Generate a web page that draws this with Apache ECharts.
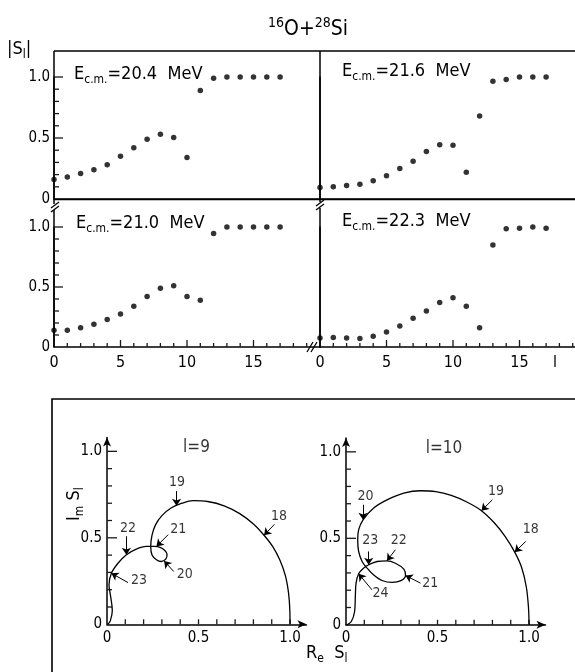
<!DOCTYPE html>
<html>
<head>
<meta charset="utf-8">
<script src="https://cdn.jsdelivr.net/npm/echarts@6/dist/echarts.min.js"></script>
<style>
  html, body { margin: 0; padding: 0; background: #fff; }
  #main { width: 575px; height: 672px; }
</style>
</head>
<body>
<div id="main"></div>
<script>
var FONT = "'DejaVu Sans Condensed', 'Liberation Sans Narrow', 'DejaVu Sans', sans-serif";

// partial wave l
var ell = [0, 1, 2, 3, 4, 5, 6, 7, 8, 9, 10, 11, 12, 13, 14, 15, 16, 17];
// |S_l| at each energy
var s204 = [0.16, 0.18, 0.21, 0.24, 0.28, 0.35, 0.42, 0.49, 0.53, 0.505, 0.34, 0.89, 0.99, 1, 1, 1, 1, 1];
var s216 = [0.095, 0.10, 0.11, 0.12, 0.15, 0.19, 0.25, 0.31, 0.39, 0.445, 0.44, 0.22, 0.68, 0.965, 0.98, 1, 1, 1];
var s210 = [0.14, 0.14, 0.16, 0.19, 0.23, 0.275, 0.34, 0.42, 0.49, 0.51, 0.42, 0.39, 0.945, 1, 1, 1, 1, 1];
var s223 = [0.075, 0.08, 0.075, 0.07, 0.09, 0.125, 0.175, 0.24, 0.30, 0.37, 0.41, 0.34, 0.16, 0.85, 0.985, 0.99, 1, 0.99];

// Argand trajectory of S_l for l=9 and l=10
var re9 = [1.0, 0.999, 0.992, 0.975, 0.945, 0.905, 0.858, 0.8, 0.725, 0.64, 0.55, 0.47, 0.41, 0.35, 0.3, 0.265, 0.246, 0.239, 0.246, 0.27, 0.297, 0.322, 0.328, 0.313, 0.29, 0.26, 0.215, 0.16, 0.106, 0.06, 0.024, 0.011, 0.02, 0.029, 0.018, 0.004];
var im9 = [0, 0.08, 0.18, 0.28, 0.37, 0.45, 0.515, 0.58, 0.64, 0.685, 0.71, 0.715, 0.7, 0.672, 0.628, 0.575, 0.515, 0.45, 0.40, 0.373, 0.363, 0.378, 0.405, 0.43, 0.445, 0.45, 0.45, 0.435, 0.402, 0.353, 0.295, 0.227, 0.16, 0.08, 0.02, 0];
var re10 = [1.0, 0.997, 0.985, 0.96, 0.922, 0.87, 0.81, 0.74, 0.66, 0.575, 0.49, 0.407, 0.316, 0.224, 0.15, 0.093, 0.069, 0.064, 0.069, 0.088, 0.115, 0.15, 0.197, 0.252, 0.3, 0.325, 0.316, 0.27, 0.224, 0.17, 0.124, 0.097, 0.069, 0.055, 0.051, 0.047, 0.029, 0.005];
var im10 = [0, 0.1, 0.22, 0.33, 0.42, 0.51, 0.59, 0.66, 0.71, 0.748, 0.77, 0.775, 0.761, 0.722, 0.674, 0.607, 0.549, 0.491, 0.424, 0.366, 0.328, 0.289, 0.256, 0.245, 0.255, 0.285, 0.322, 0.356, 0.37, 0.366, 0.347, 0.328, 0.295, 0.241, 0.164, 0.077, 0.019, 0];

// energy labels on the curves (arrow tip on curve, arrow tail, label)
var notes9 = ['18', '19', '20', '21', '22', '23'];
var tip9 = [[0.858, 0.515], [0.38, 0.686], [0.312, 0.366], [0.27, 0.45], [0.106, 0.402], [0.024, 0.295]];
var tail9 = [[0.915, 0.578], [0.38, 0.77], [0.365, 0.305], [0.334, 0.518], [0.106, 0.509], [0.115, 0.241]];
var text9 = [[0.94, 0.625], [0.383, 0.82], [0.425, 0.291], [0.389, 0.551], [0.115, 0.557], [0.175, 0.256]];
var notes10 = ['18', '19', '20', '21', '22', '23', '24'];
var tip10 = [[0.922, 0.42], [0.74, 0.66], [0.093, 0.607], [0.325, 0.285], [0.224, 0.37], [0.124, 0.347], [0.069, 0.295]];
var tail10 = [[0.982, 0.482], [0.80, 0.723], [0.093, 0.694], [0.407, 0.241], [0.27, 0.434], [0.124, 0.424], [0.142, 0.202]];
var text10 = [[1.01, 0.55], [0.82, 0.771], [0.106, 0.742], [0.46, 0.241], [0.288, 0.491], [0.133, 0.491], [0.188, 0.183]];

// tick values
var ellTicks = [1, 2, 3, 4, 5, 6, 7, 8, 9, 10, 11, 12, 13, 14, 15, 16, 17, 18, 19];
var sTicks = [0.1, 0.2, 0.3, 0.4, 0.5, 0.6, 0.7, 0.8, 0.9, 1.0];
var argTicks = [0.1, 0.2, 0.3, 0.4, 0.5, 0.6, 0.7, 0.8, 0.9, 1.0];
var argLabels = [0, 0.5, 1.0];

var chart = echarts.init(document.getElementById('main'));

function black() { return {color: '#000', width: 1.5}; }
function fmt(v) { return v === 0 ? '0' : v.toFixed(1); }

function panelX(gi, withLabels) {
    return {
        type: 'value', gridIndex: gi, min: 0, max: 20, interval: 5,
        axisLine: {show: true, lineStyle: black()},
        axisTick: {show: false}, minorTick: {show: false},
        axisLabel: {show: withLabels, margin: 8, fontSize: 16, color: '#000', fontFamily: FONT,
            formatter: function(v) { return v === 20 ? '' : String(v); }},
        splitLine: {show: false}
    };
}
function panelY(gi, withLabels) {
    return {
        type: 'value', gridIndex: gi, min: 0, max: 1, interval: 0.5,
        axisLine: {show: true, lineStyle: black()},
        axisTick: {show: false}, minorTick: {show: false},
        axisLabel: {show: withLabels, margin: 4, fontSize: 15, color: '#000', fontFamily: FONT, formatter: fmt},
        splitLine: {show: false}
    };
}
function argX(gi) {
    return {
        type: 'value', gridIndex: gi, min: 0, max: 1.09,
        axisLine: {show: true, symbol: ['none', 'arrow'], symbolSize: [6, 9], lineStyle: black()},
        axisTick: {show: false},
        axisLabel: {show: true, customValues: argLabels, margin: 6, fontSize: 15, color: '#000', fontFamily: FONT, formatter: fmt},
        splitLine: {show: false}
    };
}
function argY(gi) {
    return {
        type: 'value', gridIndex: gi, min: 0, max: 1.08,
        axisLine: {show: true, symbol: ['none', 'arrow'], symbolSize: [6, 9], lineStyle: black()},
        axisTick: {show: false},
        axisLabel: {show: true, customValues: argLabels, margin: 5, fontSize: 15, color: '#000', fontFamily: FONT, formatter: fmt},
        splitLine: {show: false}
    };
}

function pts(xs, ys) {
    return xs.map(function(x, i) { return [x, ys[i]]; });
}
function dots(xi, yi, vals) {
    return {
        type: 'scatter', xAxisIndex: xi, yAxisIndex: yi, clip: false,
        symbolSize: 5.5, itemStyle: {color: '#000'},
        data: pts(ell, vals)
    };
}
// inward ticks drawn through the axis scale; majorEvery marks longer ticks
function ticks(xi, yi, vals, onX, len, longLen, majorEvery) {
    return {
        type: 'custom', xAxisIndex: xi, yAxisIndex: yi, clip: false, silent: true, z: 3,
        data: vals.map(function(v) { return onX ? [v, 0] : [0, v]; }),
        renderItem: function(params, api) {
            var p = api.coord([api.value(0), api.value(1)]);
            var v = onX ? api.value(0) : api.value(1);
            var major = majorEvery && Math.abs(v / majorEvery - Math.round(v / majorEvery)) < 1e-6;
            var L = major ? longLen : len;
            return {
                type: 'line',
                shape: onX ? {x1: p[0], y1: p[1], x2: p[0], y2: p[1] - L} : {x1: p[0], y1: p[1], x2: p[0] + L, y2: p[1]},
                style: {stroke: '#1a1a1a', lineWidth: 1.3}
            };
        }
    };
}
function curve(xi, yi, xs, ys, tips, tails) {
    return {
        type: 'line', xAxisIndex: xi, yAxisIndex: yi, clip: false,
        showSymbol: false, smooth: 0.35,
        lineStyle: {color: '#000', width: 1.3},
        data: pts(xs, ys),
        markLine: {
            silent: true, symbol: ['none', 'arrow'], symbolSize: 7,
            label: {show: false},
            lineStyle: {color: '#000', width: 1, type: 'solid'},
            data: tips.map(function(t, i) { return [{coord: tails[i]}, {coord: t}]; })
        }
    };
}
function notes(xi, yi, names, where, title, titlePos) {
    var d = names.map(function(n, i) { return {name: n, value: where[i]}; });
    d.push({name: title, value: titlePos, label: {fontSize: 17}});
    return {
        type: 'scatter', xAxisIndex: xi, yAxisIndex: yi, clip: false,
        symbolSize: 0, silent: true,
        label: {show: true, position: 'inside', formatter: '{b}', color: '#000', fontSize: 14, fontFamily: FONT},
        data: d
    };
}

function rt(text, x, y, size, subSize, extra) {
    var o = {
        type: 'text', silent: true,
        style: {
            text: text, x: x, y: y, align: 'left', verticalAlign: 'middle',
            rich: {
                a: {fontSize: size, fontFamily: FONT, fill: '#000', lineHeight: size},
                b: {fontSize: subSize, fontFamily: FONT, fill: '#000', lineHeight: subSize, padding: [size * 0.6, 0, 0, 0]},
                p: {fontSize: subSize, fontFamily: FONT, fill: '#000', lineHeight: subSize, padding: [0, 0, size * 0.6, 0]}
            }
        }
    };
    if (extra) { for (var k in extra) { o[k] = extra[k]; } }
    return o;
}
function seg(x1, y1, x2, y2, w) {
    return {type: 'line', silent: true, shape: {x1: x1, y1: y1, x2: x2, y2: y2},
        style: {stroke: '#000', lineWidth: w || 1.5}};
}
function brk(x, y, vertical) {
    var g = [{type: 'rect', silent: true, shape: {x: x - 3, y: y - 3, width: 6, height: 6}, style: {fill: '#fff'}}];
    if (vertical) {
        g.push(seg(x - 5, y + 5, x + 1, y - 5, 1.3));
        g.push(seg(x - 1, y + 5, x + 5, y - 5, 1.3));
    } else {
        g.push(seg(x - 4, y + 1, x + 4, y - 5, 1.3));
        g.push(seg(x - 4, y + 5, x + 4, y - 1, 1.3));
    }
    return g;
}

var graphics = [
    seg(54, 51, 575, 51),
    seg(54, 51, 54, 347),
    seg(320, 51, 320, 347),
    seg(54, 199.5, 575, 199.5),
    {type: 'rect', silent: true, shape: {x: 52, y: 399, width: 600, height: 400},
        style: {fill: 'none', stroke: '#000', lineWidth: 1.6}},
    rt('{p|16}{a|O+}{p|28}{a|Si}', 268, 30, 21, 14),
    rt('{a||S}{b|l}{a||}', 7, 49, 18, 12),
    rt('{a|E}{b|c.m.}{a|=20.4  MeV}', 74, 74, 18, 12),
    rt('{a|E}{b|c.m.}{a|=21.6  MeV}', 342, 71, 18, 12),
    rt('{a|E}{b|c.m.}{a|=21.0  MeV}', 76, 223, 18, 12),
    rt('{a|E}{b|c.m.}{a|=22.3  MeV}', 342, 221, 18, 12),
    rt('{a|l}', 553, 363, 16, 12),
    rt('{a|R}{b|e}{a|  S}{b|l}', 306, 653, 18, 12),
    rt('{a|I}{b|m}{a| S}{b|l}', 0, 0, 18, 12, {x: 74, y: 521, rotation: Math.PI / 2})
].concat(brk(55, 207, false), brk(320, 205, false), brk(312, 347, true));

var gridBase = {outerBoundsMode: 'none', containLabel: false};
function grid(l, t, w, h) {
    return Object.assign({left: l, top: t, width: w, height: h}, gridBase);
}

chart.setOption({
    animation: false,
    grid: [
        grid(54, 77, 266, 122),
        grid(320, 77, 266, 122),
        grid(54, 227, 266, 120),
        grid(320, 227, 266, 120),
        grid(107, 437.5, 199.5, 186.8),
        grid(346, 438, 199.5, 186.8)
    ],
    xAxis: [
        panelX(0, false), panelX(1, false), panelX(2, true), panelX(3, true),
        argX(4), argX(5)
    ],
    yAxis: [
        panelY(0, true), panelY(1, false), panelY(2, true), panelY(3, false),
        argY(4), argY(5)
    ],
    series: [
        dots(0, 0, s204),
        dots(1, 1, s216),
        dots(2, 2, s210),
        dots(3, 3, s223),
        curve(4, 4, re9, im9, tip9, tail9),
        curve(5, 5, re10, im10, tip10, tail10),
        notes(4, 4, notes9, text9, 'l=9', [0.489, 1.02]),
        notes(5, 5, notes10, text10, 'l=10', [0.535, 1.02]),
        ticks(0, 0, sTicks, false, 5, 9, 0.5),
        ticks(2, 2, sTicks, false, 5, 9, 0.5),
        ticks(2, 2, ellTicks, true, 4, 7, 5),
        ticks(3, 3, ellTicks, true, 4, 7, 5),
        ticks(4, 4, argTicks, true, 5, 5, 0),
        ticks(4, 4, argTicks, false, 5, 10, 0.5),
        ticks(5, 5, argTicks, true, 5, 5, 0),
        ticks(5, 5, argTicks, false, 5, 10, 0.5)
    ]
});
chart.setOption({graphic: graphics});
</script>
</body>
</html>
